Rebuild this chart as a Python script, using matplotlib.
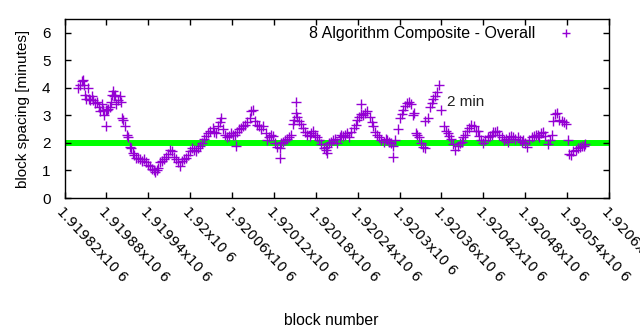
import matplotlib
matplotlib.use("Agg")
import matplotlib.pyplot as plt

# block offsets relative to 1919820 and block spacing in minutes
base_block = 1919820
offsets = [19, 22, 25, 27, 28, 29, 31, 34, 35, 37, 39, 41, 44, 47, 49, 51, 54, 55, 57, 59, 60,
           61, 62, 65, 67, 68, 70, 71, 72, 74, 77, 80, 81, 82, 84, 87, 90, 91, 94, 95, 98, 100,
           103, 105, 108, 111, 114, 117, 120, 123, 125, 128, 130, 133, 134, 137, 140, 143, 146,
           148, 151, 154, 157, 160, 163, 166, 168, 171, 174, 177, 180, 183, 186, 189, 191, 194,
           197, 200, 203, 206, 209, 212, 214, 217, 220, 223, 224, 227, 230, 233, 236, 239, 242,
           244, 246, 247, 250, 253, 256, 259, 262, 265, 267, 270, 273, 276, 279, 282, 285, 288,
           290, 293, 296, 299, 302, 305, 308, 309, 310, 313, 316, 319, 322, 325, 328, 329, 331,
           332, 333, 336, 339, 342, 345, 348, 351, 353, 356, 359, 362, 365, 368, 371, 374, 376,
           376, 379, 382, 385, 388, 391, 394, 396, 399, 402, 405, 408, 411, 414, 417, 419, 422,
           424, 425, 428, 431, 434, 437, 440, 442, 445, 448, 451, 454, 457, 460, 462, 465, 468,
           471, 471, 474, 477, 480, 483, 485, 488, 491, 494, 497, 499, 500, 503, 505, 508, 511,
           514, 516, 517, 520, 523, 526, 528, 531, 534, 537, 540, 543, 546, 549, 551, 554, 557,
           560, 563, 566, 569, 571, 574, 577, 580, 583, 586, 589, 592, 594, 597, 600, 603, 606,
           609, 612, 614, 617, 620, 623, 626, 629, 632, 635, 637, 640, 643, 646, 649, 652, 655,
           657, 660, 663, 666, 669, 672, 675, 678, 680, 683, 686, 689, 692, 695, 698, 700, 703,
           706, 709, 712, 715, 718, 721, 723, 726, 729, 732, 735, 738, 741, 744, 746]
spacing = [4.0, 4.1, 4.25, 4.3, 4.1, 3.75, 3.6, 4.0, 3.6, 3.55, 3.7, 3.55, 3.45, 3.5, 3.3, 3.15,
           3.4, 3.2, 3.0, 2.6, 3.2, 3.2, 3.25, 3.3, 3.5, 3.75, 3.9, 3.7, 3.75, 3.4, 3.55, 3.7,
           3.5, 2.9, 2.85, 2.6, 2.3, 2.2, 1.85, 1.8, 1.65, 1.55, 1.45, 1.45, 1.4, 1.35, 1.4, 1.3,
           1.2, 1.15, 1.05, 1.0, 0.95, 1.0, 1.1, 1.3, 1.35, 1.4, 1.5, 1.6, 1.75, 1.7, 1.5, 1.4,
           1.3, 1.15, 1.35, 1.4, 1.45, 1.55, 1.7, 1.8, 1.75, 1.7, 1.8, 1.9, 2.0, 2.15, 2.25, 2.35,
           2.45, 2.55, 2.4, 2.35, 2.6, 2.75, 2.9, 2.5, 2.3, 2.2, 2.25, 2.35, 2.3, 2.3, 1.9, 2.4,
           2.5, 2.55, 2.6, 2.65, 2.75, 2.9, 3.15, 3.2, 2.8, 2.65, 2.6, 2.5, 2.6, 2.35, 2.1, 2.2,
           2.3, 2.25, 2.0, 1.85, 1.8, 1.45, 2.0, 2.05, 2.1, 2.15, 2.2, 2.3, 2.7, 2.85, 3.1, 3.5,
           2.95, 2.8, 2.7, 2.55, 2.4, 2.3, 2.25, 2.35, 2.45, 2.3, 2.2, 2.1, 1.95, 1.8, 1.75, 1.85,
           1.65, 2.0, 2.05, 2.1, 2.15, 2.0, 2.2, 2.3, 2.25, 2.3, 2.35, 2.2, 2.4, 2.55, 2.65, 2.85,
           2.95, 3.4, 3.05, 3.0, 3.1, 3.15, 2.95, 2.75, 2.6, 2.4, 2.3, 2.2, 2.1, 2.05, 2.15, 2.1,
           2.05, 2.0, 1.5, 1.9, 2.1, 2.5, 2.9, 3.05, 3.2, 3.35, 3.45, 3.5, 3.4, 3.0, 3.1, 2.35,
           2.3, 2.2, 2.0, 1.85, 1.8, 2.8, 2.9, 3.3, 3.45, 3.6, 3.7, 3.85, 4.1, 3.2, 2.6, 2.45,
           2.35, 2.25, 2.15, 1.95, 1.75, 1.9, 2.0, 2.05, 2.2, 2.3, 2.45, 2.55, 2.65, 2.6, 2.45,
           2.45, 2.25, 2.1, 2.0, 2.1, 2.2, 2.25, 2.3, 2.4, 2.4, 2.45, 2.3, 2.2, 2.1, 2.15, 2.05,
           2.2, 2.25, 2.2, 2.15, 2.2, 2.1, 2.05, 2.1, 2.0, 1.85, 2.1, 2.2, 2.25, 2.3, 2.3, 2.2,
           2.35, 2.4, 2.25, 1.95, 2.1, 2.3, 2.8, 3.05, 3.1, 2.85, 2.8, 2.75, 2.7, 2.1, 1.6, 1.55,
           1.7, 1.75, 1.8, 1.85, 1.9, 1.9, 1.95]
target_minutes = 2
x_ticks = [1919820 + 60 * i for i in range(14)]
x_tick_labels = ["1.91982x10 6", "1.91988x10 6", "1.91994x10 6", "1.92x10 6", "1.92006x10 6",
                 "1.92012x10 6", "1.92018x10 6", "1.92024x10 6", "1.9203x10 6", "1.92036x10 6",
                 "1.92042x10 6", "1.92048x10 6", "1.92054x10 6", "1.9206x10 6"]
y_ticks = [0, 1, 2, 3, 4, 5, 6]

blocks = [base_block + o for o in offsets]

fig = plt.figure(figsize=(6.4, 3.3), dpi=100)
ax = fig.add_axes([0.1008, 0.40, 0.8508, 0.5424])

ax.axhline(target_minutes, color="#00ff00", lw=4.3, zorder=1)
ax.plot(blocks, spacing, linestyle="none", marker="+", color="#9400d3",
        markersize=7.5, markeredgewidth=1.0, label="8 Algorithm Composite - Overall", zorder=2)

ax.text(1920368, 3.5, "2 min", fontsize=11, ha="left", va="center",
        family="Liberation Sans", color="#222222")

ax.set_xlim(1919820, 1920600)
ax.set_ylim(0, 6.5)
ax.set_xticks(x_ticks)
ax.set_xticklabels(x_tick_labels, rotation=-47, ha="left", va="top",
                   rotation_mode="anchor", fontsize=10)
ax.set_yticks(y_ticks)
ax.set_yticklabels([str(v) for v in y_ticks], fontsize=11, family="Liberation Sans")
ax.tick_params(direction="in", top=True, right=True, length=4, width=1, pad=5)
ax.tick_params(axis="y", pad=10)
for s in ax.spines.values():
    s.set_linewidth(1)

ax.set_xlabel("block number", fontsize=11.3, family="Liberation Sans")
ax.xaxis.set_label_coords(0.49, -0.64)
ax.set_ylabel("block spacing [minutes]", fontsize=11, family="Liberation Sans", labelpad=9)

leg = ax.legend(loc="upper right", bbox_to_anchor=(0.969, 1.04), frameon=False,
                markerfirst=False, prop={"family": "Liberation Sans", "size": 11.5},
                handlelength=1.5, handletextpad=1.15, markerscale=0.85)

fig.savefig("out.png", dpi=100)
